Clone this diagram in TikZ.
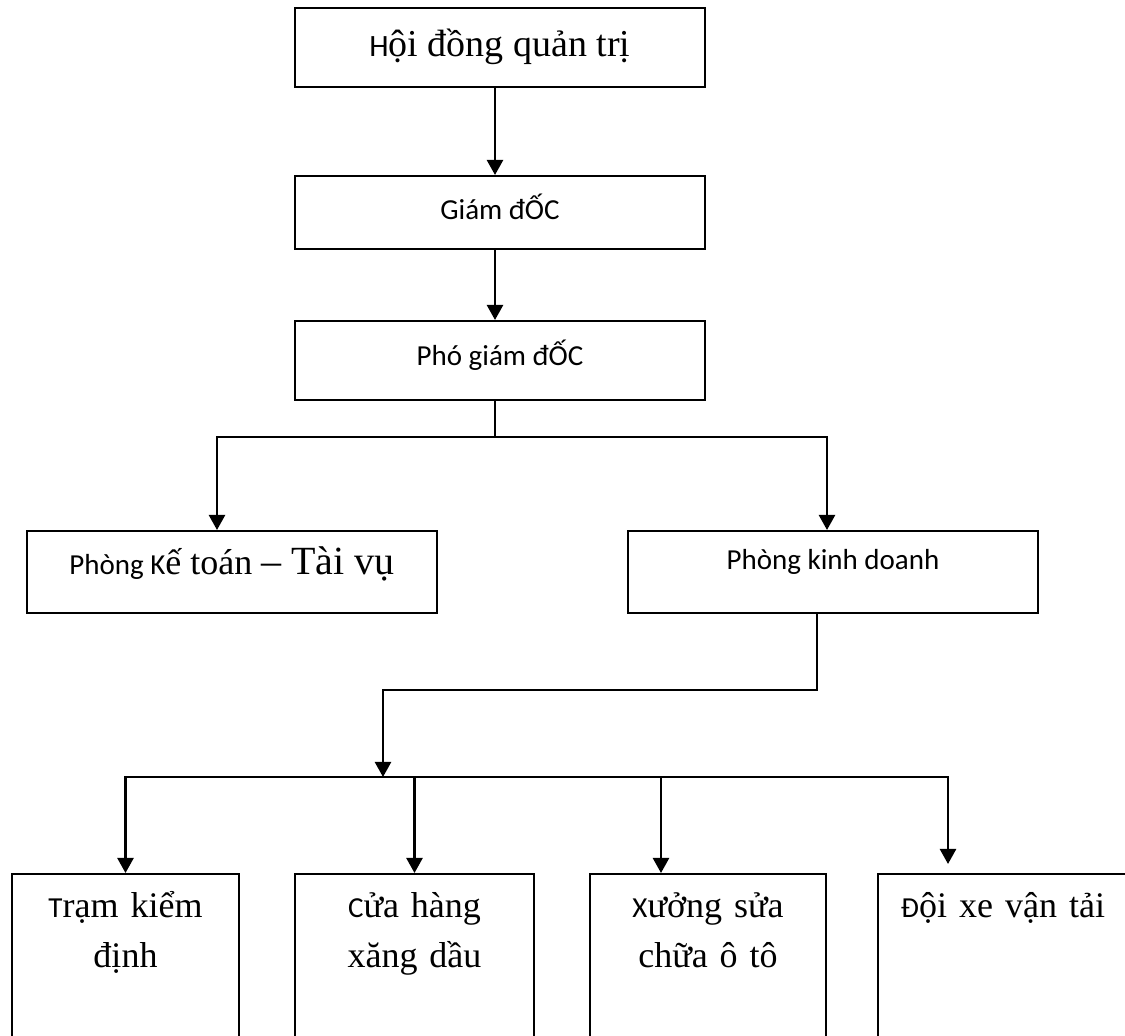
\documentclass[tikz,border=0pt]{standalone}
\usepackage{fontspec}
\setmainfont{Liberation Serif}
\newfontfamily\carlito{Carlito}
\usetikzlibrary{arrows.meta, positioning}

\newcommand{\sansfs}{\carlito\fontsize{14.5}{17}\selectfont}
\newcommand{\serffs}{\fontsize{18}{22}\selectfont}

\tikzset{
  box/.style={draw, line width=1pt, minimum width=205pt, inner sep=0pt},
  unit/.style={draw, line width=1pt, anchor=north, minimum height=100pt, inner sep=0pt},
  unittext/.style={anchor=base, align=center, text width=110pt, inner sep=0pt,
    font=\fontsize{18}{25}\selectfont},
  link/.style={line width=1.2pt},
  arr/.style={link, -{Triangle[length=7.5pt, width=8pt]}},
}

\begin{document}
\begin{tikzpicture}[x=0.5pt, y=-0.5pt]
    \clip (0,0) rectangle (1125,1036);
    % top column
    \node[box, minimum height=39.5pt, text height=12pt, text depth=2.5pt] (hdqt) at (500,47.5)
        {{\carlito\fontsize{15.5}{18}\selectfont H}{\fontsize{19}{22}\selectfont ội đồng quản trị}};
    \node[box, below=43.5pt of hdqt, minimum height=36.5pt, text height=10pt, text depth=2.5pt,
        font=\sansfs] (gd) {Giám đỐC};
    \node[box, below=35pt of gd, minimum height=39.5pt, text height=8pt, text depth=2.5pt,
        font=\sansfs] (pgd) {Phó giám đỐC};
    % departments
    \node[box, minimum height=41pt, text height=8pt, text depth=5pt] (ketoan) at (232,572)
        {{\sansfs Phòng K}{\serffs ế toán }{\fontsize{20}{24}\selectfont – Tài vụ}};
    \node[box, minimum height=41pt, text height=6pt, text depth=8pt, font=\sansfs] (kinhdoanh)
        at (833,572) {Phòng kinh doanh};
    % units
    \node[unit, minimum width=113.5pt] (tram) at (125.5,873) {};
    \node[unit, minimum width=119.5pt] (cuahang) at (414.5,873) {};
    \node[unit, minimum width=118pt] (xuong) at (708,873) {};
    \node[unit, minimum width=125pt] (doixe) at (1003,873) {};
    \node[unittext] (tramtext) at ([yshift=-22.5pt]tram.north) {{\sansfs T}rạm kiểm\\định};
    \node[unittext] (cuahangtext) at ([yshift=-22.5pt]cuahang.north) {{\sansfs C}ửa hàng\\xăng dầu};
    \node[unittext] (xuongtext) at ([yshift=-22.5pt]xuong.north) {{\sansfs X}ưởng sửa\\chữa ô tô};
    \node[unittext] (doixetext) at ([yshift=-22.5pt]doixe.north) {{\sansfs Đ}ội xe vận tải};
    % connectors
    \coordinate (split1) at (495,437);
    \coordinate (bend) at (383,690);
    \coordinate (bus) at (383,777);
    \draw[arr] ([xshift=-2.5pt]hdqt.south) -- ([xshift=-2.5pt]gd.north);
    \draw[arr] ([xshift=-2.5pt]gd.south) -- ([xshift=-2.5pt]pgd.north);
    \draw[link] ([xshift=-2.5pt]pgd.south) -- (split1);
    \draw[arr] (split1) -| ([xshift=-7.5pt]ketoan.north);
    \draw[arr] (split1) -| ([xshift=-3pt]kinhdoanh.north);
    \draw[arr] ([xshift=-8pt]kinhdoanh.south) |- (bend) -- (bus);
    \draw[arr] (bus) -| (tram);
    \draw[arr] (bus) -| (cuahang);
    \draw[arr] (bus) -| ([xshift=-23.5pt]xuong.north);
    \draw[arr] (bus) -| ([xshift=-27.5pt, yshift=4.5pt]doixe.north);
\end{tikzpicture}
\end{document}
